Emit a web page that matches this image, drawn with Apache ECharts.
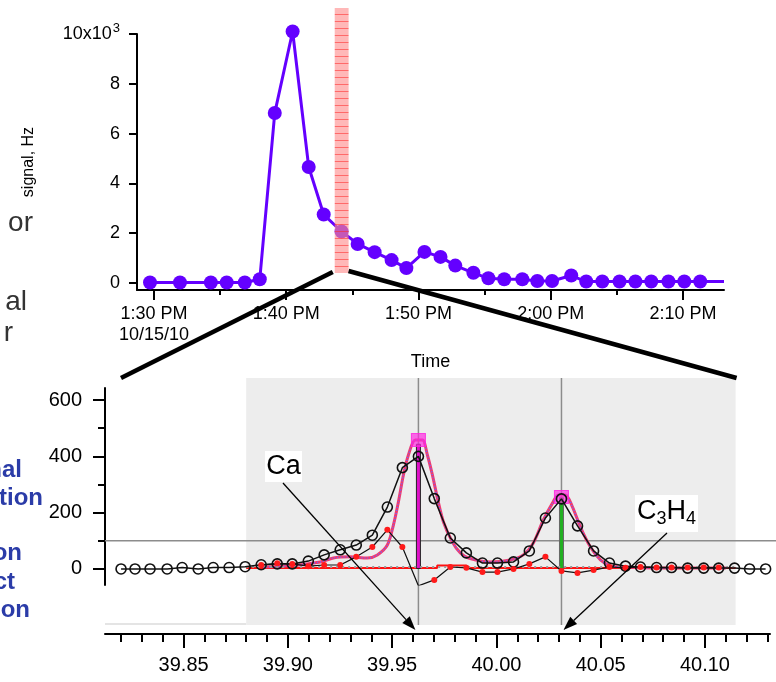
<!DOCTYPE html>
<html>
<head>
<meta charset="utf-8">
<script src="https://cdn.jsdelivr.net/npm/echarts@6/dist/echarts.min.js"></script>
<style>
html, body { margin: 0; padding: 0; background: #fff; }
#chart { width: 776px; height: 682px; }
</style>
</head>
<body>
<div id="chart"></div>
<script>
const FONT = '"Liberation Sans", Arial, sans-serif';

// ---- top panel: signal vs clock time ----
const sampleTimes = ['13:29:42', '13:31:58', '13:34:18', '13:35:30', '13:36:52', '13:38:00', '13:39:08',
  '13:40:29', '13:41:42', '13:42:50', '13:44:11', '13:45:24', '13:46:41', '13:47:58', '13:49:05',
  '13:50:27', '13:51:40', '13:52:47', '13:54:09', '13:55:17', '13:56:29', '13:57:51', '13:58:59',
  '14:00:06', '14:01:33', '14:02:41', '14:03:54', '14:05:12', '14:06:24', '14:07:36', '14:08:54',
  '14:10:06', '14:11:18'];
const signalHz = [20, 20, 20, 20, 20, 150, 6830, 10100, 4660, 2750, 2070, 1570, 1240, 920, 600,
  1250, 1050, 700, 410, 190, 150, 150, 80, 80, 300, 60, 60, 60, 60, 60, 60, 60, 60];
const traceEnd = ['14:13:06', 60];
const timeRange = ['13:28:43', '14:13:06'];
const timeTicksMajor = ['13:30', '13:40', '13:50', '14:00', '14:10'];
const timeTicksMinor = ['13:35', '13:45', '13:55', '14:05'];
const dateLabel = '10/15/10';
const signalTicks = [0, 2000, 4000, 6000, 8000, 10000];
const zoomWindow = ['13:43:40', '13:44:43'];

// ---- bottom panel: mass spectrum ----
const massAxis = [39.8200, 39.8267, 39.8339, 39.8421, 39.8493, 39.8570, 39.8642, 39.8718, 39.8795,
  39.8872, 39.8949, 39.9021, 39.9098, 39.9174, 39.9251, 39.9328, 39.9405, 39.9477, 39.9549, 39.9626,
  39.9702, 39.9779, 39.9856, 39.9933, 40.0005, 40.0082, 40.0158, 40.0235, 40.0312, 40.0389, 40.0466,
  40.0542, 40.0619, 40.0691, 40.0768, 40.0840, 40.0917, 40.0994, 40.1066, 40.1142, 40.1214, 40.1291];
const countsRaw = [0, 0, 0, 0, 5, 0, 5, 5, 8, 15, 18, 18, 28, 50, 68, 85, 120, 220, 360, 400, 250, 110,
  57, 21, 21, 25, 64, 181, 249, 153, 64, 21, 10, 7, 5, 5, 3, 3, 3, 3, 0, 0];
const residMass = massAxis.slice(9, 39);
const residCounts = [14, 20, 18, 10, 14, 14, 43, 78, 139, 78, -60, -39, 7, 4, -11, -11, 0, 18, 43, -7,
  -14, -4, 7, 4, 7, 5, 5, 5, 5, 5];
const fitMass = [39.8882, 39.9011, 39.9155, 39.9218, 39.9299, 39.9381, 39.9429, 39.9477, 39.9506,
  39.9530, 39.9554, 39.9578, 39.9611, 39.9645, 39.9669, 39.9693, 39.9717, 39.9746, 39.9789, 39.9827,
  39.9866, 39.9971, 40.0067, 40.0129, 40.0177, 40.0225, 40.0269, 40.0297, 40.0331, 40.0365, 40.0403,
  40.0451, 40.0499, 40.0547, 40.0610, 40.0788, 40.1100];
const fitCounts = [7, 11, 25, 39, 43, 39, 50, 85, 156, 238, 334, 405, 458, 458, 405, 334, 252, 167, 96,
  57, 39, 25, 32, 50, 92, 174, 234, 263, 263, 220, 149, 78, 32, 11, 7, 3, 3];
const baseMass = [39.880, 39.9716, 39.9716, 39.9856, 39.9856, 40.1147];
const baseCounts = [3, 3, 12, 12, 3, 3];
const peakNames = ['Ca', 'C3H4'];
const peakMass = [39.9626, 40.0312];
const peakHeight = [445, 255];
const peakFitTop = [458, 256];
const panelMass = [39.880, 40.1147];
const massRange = [39.8123, 40.1312];
const massTicksMajor = [39.85, 39.90, 39.95, 40.00, 40.05, 40.10];
const countRange = [-57, 643];
const countTicksMajor = [0, 200, 400, 600];
const countTicksMinor = [100, 300, 500];
const refLevel = 100;

function toMin(t) {
  const p = t.split(':').map(Number);
  return p[0] * 60 + p[1] + (p[2] || 0) / 60;
}
function clockLabel(v) {
  const h = Math.floor(Math.round(v) / 60), m = Math.round(v) % 60;
  const s = (h > 12 ? h - 12 : h) + ':' + String(m).padStart(2, '0') + ' PM';
  return v === toMin(timeTicksMajor[0]) ? s + '\n' + dateLabel : s;
}
const massTicksMinor = [];
for (let k = 3982; k <= 4013; k++) massTicksMinor.push(k / 100);

const black = '#000';
const chart = echarts.init(document.getElementById('chart'));

const option = {
  animation: false,
  textStyle: { fontFamily: FONT },
  grid: [
    { left: 137, right: 52, top: 34, bottom: 392 },
    { left: 105, right: 6, top: 388, bottom: 97 }
  ],
  xAxis: [
    {
      gridIndex: 0, type: 'value', min: toMin(timeRange[0]), max: toMin(timeRange[1]),
      name: 'Time', nameLocation: 'middle', nameGap: 63,
      nameTextStyle: { fontSize: 18, color: black, fontFamily: FONT },
      axisLine: { onZero: false, lineStyle: { color: black, width: 2 } },
      axisTick: { customValues: timeTicksMajor.map(toMin), length: 10, lineStyle: { color: black, width: 2 } },
      axisLabel: { customValues: timeTicksMajor.map(toMin), formatter: clockLabel, fontSize: 18,
        lineHeight: 21, color: black, margin: 14, fontFamily: FONT },
      splitLine: { show: false }
    },
    {
      gridIndex: 0, type: 'value', position: 'bottom', min: toMin(timeRange[0]), max: toMin(timeRange[1]),
      axisLine: { show: false, onZero: false },
      axisTick: { customValues: timeTicksMinor.map(toMin), length: 5, lineStyle: { color: black, width: 2 } },
      axisLabel: { show: false }, splitLine: { show: false }
    },
    {
      gridIndex: 1, type: 'value', min: massRange[0], max: massRange[1], offset: 49,
      axisLine: { onZero: false, lineStyle: { color: black, width: 2 } },
      axisTick: { customValues: massTicksMajor, length: 14, lineStyle: { color: black, width: 2 } },
      axisLabel: { customValues: massTicksMajor, formatter: v => v.toFixed(2), fontSize: 20,
        color: black, margin: 21, fontFamily: FONT },
      splitLine: { show: false }
    },
    {
      gridIndex: 1, type: 'value', position: 'bottom', min: massRange[0], max: massRange[1], offset: 49,
      axisLine: { show: false, onZero: false },
      axisTick: { customValues: massTicksMinor, length: 8, lineStyle: { color: black, width: 2 } },
      axisLabel: { show: false }, splitLine: { show: false }
    }
  ],
  yAxis: [
    {
      gridIndex: 0, type: 'value', min: -280, max: 10000,
      name: 'signal, Hz', nameLocation: 'middle', nameGap: 100, nameRotate: 90, nameMoveOverlap: false,
      nameTextStyle: { fontSize: 16, color: black, fontFamily: FONT },
      axisLine: { onZero: false, lineStyle: { color: black, width: 2 } },
      axisTick: { customValues: signalTicks, length: 8, lineStyle: { color: black, width: 2 } },
      axisLabel: {
        customValues: signalTicks, margin: 17, color: black, fontSize: 18, fontFamily: FONT,
        formatter: v => v === 10000 ? '{m|10x10}{sup|3}' : String(v / 1000),
        rich: { m: { fontSize: 18, fontFamily: FONT, color: black },
          sup: { fontSize: 13, fontFamily: FONT, color: black, padding: [0, 0, 12, 1] } }
      },
      splitLine: { show: false }
    },
    {
      gridIndex: 1, type: 'value', min: countRange[0], max: countRange[1],
      axisLine: { onZero: false, lineStyle: { color: black, width: 2 } },
      axisTick: { customValues: countTicksMajor, length: 12, lineStyle: { color: black, width: 2 } },
      axisLabel: { customValues: countTicksMajor, margin: 23, color: black, fontSize: 20, fontFamily: FONT },
      splitLine: { show: false }
    },
    {
      gridIndex: 1, type: 'value', position: 'left', min: countRange[0], max: countRange[1],
      axisLine: { show: false, onZero: false },
      axisTick: { customValues: countTicksMinor, length: 7, lineStyle: { color: black, width: 2 } },
      axisLabel: { show: false }, splitLine: { show: false }
    }
  ],
  series: [
    {
      type: 'line', xAxisIndex: 0, yAxisIndex: 0, z: 3, clip: false,
      data: sampleTimes.map((t, i) => [toMin(t), signalHz[i]])
        .concat([{ value: [toMin(traceEnd[0]), traceEnd[1]], symbol: 'none' }]),
      symbol: 'circle', symbolSize: 14,
      itemStyle: { color: '#6400ff' },
      lineStyle: { color: '#6400ff', width: 3 }
    },
    {
      name: 'baseline', type: 'line', xAxisIndex: 2, yAxisIndex: 1, z: 2,
      data: baseMass.map((m, i) => [m, baseCounts[i]]), symbol: 'none',
      lineStyle: { color: '#ff1010', width: 2 },
      markLine: {
        silent: true, symbol: 'none', label: { show: false },
        lineStyle: { color: '#9a9a9a', type: [2, 4], width: 2 },
        data: [[{ coord: [panelMass[0], 7] }, { coord: [panelMass[1], 7] }]]
      }
    },
    {
      name: 'fit', type: 'line', xAxisIndex: 2, yAxisIndex: 1, z: 3, smooth: 0.3,
      data: fitMass.map((m, i) => [m, fitCounts[i]]), symbol: 'none',
      lineStyle: { color: '#f23a6e', width: 3 }
    },
    {
      name: 'fit-dots', type: 'line', xAxisIndex: 2, yAxisIndex: 1, z: 3, smooth: 0.3,
      data: fitMass.map((m, i) => [m, fitCounts[i]]), symbol: 'none',
      lineStyle: { color: '#6a6aff', width: 1.5, type: [1, 2] }
    },
    {
      name: 'sticks', type: 'bar', xAxisIndex: 2, yAxisIndex: 1, z: 4, barWidth: 5,
      data: peakMass.map((m, i) => ({
        value: [m, peakHeight[i]],
        itemStyle: i === 0
          ? { color: '#e010c8', borderColor: '#222', borderWidth: 1 }
          : { color: '#22b022', borderColor: '#666', borderWidth: 1 }
      }))
    },
    {
      name: 'peak tops', type: 'scatter', xAxisIndex: 2, yAxisIndex: 1, z: 5,
      data: peakMass.map((m, i) => [m, peakFitTop[i]]),
      symbol: 'rect', symbolSize: [14, 13],
      itemStyle: { color: 'rgba(255,40,225,0.85)', borderColor: '#ff20e0', borderWidth: 1 }
    },
    {
      name: 'raw', type: 'line', xAxisIndex: 2, yAxisIndex: 1, z: 6,
      data: massAxis.map((m, i) => [m, countsRaw[i]]),
      symbol: 'circle', symbolSize: 10,
      itemStyle: { color: 'rgba(0,0,0,0)', borderColor: '#111', borderWidth: 1.6 },
      lineStyle: { color: '#111', width: 1.5 }
    },
    {
      name: 'residual', type: 'line', xAxisIndex: 2, yAxisIndex: 1, z: 7,
      data: residMass.map((m, i) => [m, residCounts[i]]),
      symbol: 'circle', symbolSize: 6,
      itemStyle: { color: '#ff1a1a' },
      lineStyle: { color: '#111', width: 1.2 }
    }
  ]
};
chart.setOption(option);

// ---- decorations placed from the axes ----
const topPt = p => chart.convertToPixel({ xAxisIndex: 0, yAxisIndex: 0 }, p);
const botPt = p => chart.convertToPixel({ xAxisIndex: 2, yAxisIndex: 1 }, p);

const panelTop = 378, panelBottom = 625, bandTopY = 8, bandBottomY = 273, axisLineY = 634;
const pL = botPt([panelMass[0], 0])[0], pR = botPt([panelMass[1], 0])[0];
const yAxisX = botPt([massRange[0], 0])[0];
const refY = botPt([massRange[0], refLevel])[1];
const bandL = topPt([toMin(zoomWindow[0]), 0])[0], bandR = topPt([toMin(zoomWindow[1]), 0])[0];

const tile = document.createElement('canvas');
tile.width = 7; tile.height = 7;
const tctx = tile.getContext('2d');
tctx.fillStyle = 'rgba(255,140,140,0.62)'; tctx.fillRect(0, 0, 7, 7);
tctx.fillStyle = 'rgba(255,40,40,0.55)'; tctx.fillRect(0, 0, 7, 1);

function arrow(x1, y1, x2, y2) {
  const a = Math.atan2(y2 - y1, x2 - x1), L = 14, W = 5;
  const bx = x2 - L * Math.cos(a), by = y2 - L * Math.sin(a);
  return [
    { type: 'line', z: 20, shape: { x1, y1, x2: bx, y2: by }, style: { stroke: black, lineWidth: 1.3 } },
    { type: 'polygon', z: 20, shape: { points: [[x2, y2],
      [bx - W * Math.sin(a), by + W * Math.cos(a)], [bx + W * Math.sin(a), by - W * Math.cos(a)]] },
      style: { fill: black } }
  ];
}
function sideText(text, x, y, size, weight, color) {
  return { type: 'text', z: 20, style: { text, x, y, fill: color, textAlign: 'right',
    textVerticalAlign: 'bottom', font: weight + ' ' + size + 'px ' + FONT } };
}

const caTip = [botPt([peakMass[0], 0])[0] - 3, axisLineY - 4];
const c3Tip = [botPt([peakMass[1], 0])[0] + 2, axisLineY - 4];

const graphics = [
  // shaded analysis window
  { type: 'rect', z: -1, shape: { x: pL, y: panelTop, width: pR - pL, height: panelBottom - panelTop },
    style: { fill: '#ededed' } },
  { type: 'line', z: -1, shape: { x1: yAxisX, y1: panelBottom - 1, x2: pL, y2: panelBottom - 1 },
    style: { stroke: '#e4e4e4', lineWidth: 2 } },
  { type: 'line', z: 1, shape: { x1: yAxisX, y1: refY, x2: 776, y2: refY },
    style: { stroke: '#8c8c8c', lineWidth: 1.5 } },
  ...peakMass.map(m => {
    const x = botPt([m, 0])[0];
    return { type: 'line', z: 1, shape: { x1: x, y1: panelTop, x2: x, y2: panelBottom },
      style: { stroke: '#8c8c8c', lineWidth: 1.5 } };
  }),
  // zoom window on the time trace
  { type: 'rect', z: 20, shape: { x: bandL, y: bandTopY, width: bandR - bandL, height: bandBottomY - bandTopY },
    style: { fill: { image: tile, repeat: 'repeat' } } },
  { type: 'line', z: 20, shape: { x1: 121, y1: panelTop, x2: bandL - 2, y2: bandBottomY - 1 },
    style: { stroke: black, lineWidth: 4.5 } },
  { type: 'line', z: 20, shape: { x1: bandR, y1: bandBottomY - 2, x2: pR + 1, y2: panelTop },
    style: { stroke: black, lineWidth: 4.5 } },
  // peak labels
  { type: 'rect', z: 19, shape: { x: 265, y: 451, width: 37, height: 31 }, style: { fill: '#fff' } },
  { type: 'text', z: 20, style: { text: peakNames[0], x: 283.5, y: 467, textAlign: 'center',
    textVerticalAlign: 'middle', fill: black, font: '27px ' + FONT } },
  ...arrow(283, 483, caTip[0], caTip[1]),
  { type: 'rect', z: 19, shape: { x: 635, y: 495, width: 63, height: 37 }, style: { fill: '#fff' } },
  { type: 'text', z: 20, style: { text: '{b|C}{s|3}{b|H}{s|4}', x: 666.5, y: 512, textAlign: 'center',
    textVerticalAlign: 'middle', fill: black,
    rich: { b: { fontSize: 27, fontFamily: FONT, color: black },
      s: { fontSize: 18, fontFamily: FONT, color: black, padding: [14, 0, 0, 0] } } } },
  ...arrow(667, 533, c3Tip[0], c3Tip[1]),
  // cropped slide text on the left
  sideText('or', 33, 237, 28, 'normal', '#333'),
  sideText('al', 27, 316, 28, 'normal', '#333'),
  sideText('r', 13, 347, 28, 'normal', '#333'),
  sideText('nal', 22, 482, 24, 'bold', '#2b3ca8'),
  sideText('ation', 43, 510, 24, 'bold', '#2b3ca8'),
  sideText('on', 22, 565, 24, 'bold', '#2b3ca8'),
  sideText('ct', 15, 594, 24, 'bold', '#2b3ca8'),
  sideText('ion', 30, 622, 24, 'bold', '#2b3ca8')
];
chart.setOption({ graphic: graphics });
</script>
</body>
</html>
